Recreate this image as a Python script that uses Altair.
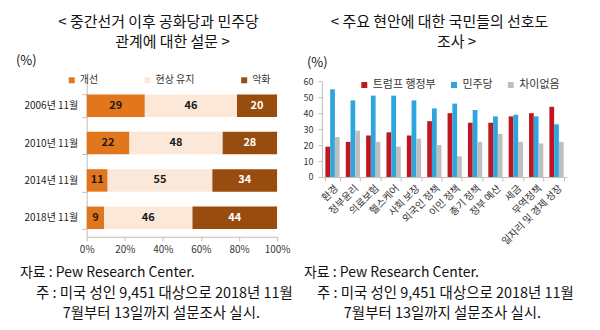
import altair as alt
import pandas as pd

FONT = "Noto Sans CJK KR"

# ---------------- data ----------------
years = ["2006년 11월", "2010년 11월", "2014년 11월", "2018년 11월"]
rel_cats = ["개선", "현상 유지", "악화"]
improve = [29, 22, 11, 9]
status_quo = [46, 48, 55, 46]
worse = [20, 28, 34, 44]
rel_colors = ["#E2761C", "#FCE8D9", "#984D0E"]

issues = ["환경", "정부윤리", "의료보험", "헬스케어", "사회 보장", "외국인 정책",
          "이민 정책", "총기 정책", "정부 예산", "세금", "무역정책", "일자리 및 경제 성장"]
series = ["트럼프 행정부", "민주당", "차이없음"]
trump = [19, 22, 26, 28, 26, 35, 40, 34, 34, 38, 40, 44]
dem = [55, 48, 51, 51, 48, 43, 46, 42, 38, 39, 38, 33]
nodiff = [25, 29, 22, 19, 24, 20, 13, 22, 27, 22, 21, 22]
series_colors = ["#C0161F", "#2EA6DD", "#BFBFBF"]

left_title = ["< 중간선거 이후 공화당과 민주당", "관계에 대한 설문 >"]
right_title = ["< 주요 현안에 대한 국민들의 선호도", "조사 >"]
source = "자료 : Pew Research Center."
note1 = "주 : 미국 성인 9,451 대상으로 2018년 11월"
note2 = "7월부터 13일까지 설문조사 실시."
unit = "(%)"

left_x_ticks = [0, 0.2, 0.4, 0.6, 0.8, 1.0]
right_y_ticks = [0, 10, 20, 30, 40, 50, 60]

# ---------------- tables ----------------
rows = []
for i, y in enumerate(years):
    for j, (c, vals) in enumerate(zip(rel_cats, [improve, status_quo, worse])):
        rows.append({"year": y, "cat": c, "value": vals[i], "order": j})
df_left = pd.DataFrame(rows)

rows = []
for i, iss in enumerate(issues):
    for s, vals in zip(series, [trump, dem, nodiff]):
        rows.append({"issue": iss, "series": s, "value": vals[i]})
df_right = pd.DataFrame(rows)

W1, H1 = 191, 156
W2, H2 = 246, 96
GRID = "#BFBFBF"


def txt(s, x, y, size, align="left", weight="normal"):
    return alt.Chart(pd.DataFrame({"t": [s]})).mark_text(
        align=align, baseline="middle", fontSize=size, font=FONT,
        color="#111111", fontWeight=weight
    ).encode(x=alt.value(x), y=alt.value(y), text="t:N")


def corner(x, y):
    return alt.Chart(pd.DataFrame({"a": [0]})).mark_rect(color="white").encode(
        x=alt.value(x), x2=alt.value(x + 1), y=alt.value(y), y2=alt.value(y + 1)
    )


# ---------------- left panel ----------------
lbase = alt.Chart(df_left).transform_stack(
    stack="value", groupby=["year"], as_=["v0", "v1"], offset="normalize",
    sort=[alt.SortField("order", order="ascending")]
).transform_calculate(mid="(datum.v0 + datum.v1) / 2")

xscale = alt.Scale(domain=[0, 1], nice=False)
yscale = alt.Scale(domain=years, paddingInner=0.4, paddingOuter=0.28, align=0.63)
xaxis = alt.Axis(values=left_x_ticks, format=".0%", title=None, labelFontSize=10,
                 labelColor="#333333", domainColor=GRID, tickColor=GRID, tickSize=4,
                 labelPadding=4, grid=False, labelOverlap=False, labelFlush=False)
yaxis = alt.Axis(title=None, labelFontSize=10, labelColor="#222222", domainColor=GRID,
                 tickColor=GRID, tickSize=5, tickBand="extent", labelPadding=4)

lbars = lbase.mark_bar().encode(
    x=alt.X("v0:Q", scale=xscale, axis=xaxis),
    x2="v1:Q",
    y=alt.Y("year:N", scale=yscale, sort=years, axis=yaxis),
    color=alt.Color("cat:N", sort=rel_cats,
                    scale=alt.Scale(domain=rel_cats, range=rel_colors),
                    legend=alt.Legend(orient="none", legendX=-20, legendY=-6,
                                      direction="horizontal", columns=3, title=None,
                                      symbolType="square", symbolSize=36,
                                      symbolStrokeWidth=0, labelFontSize=10,
                                      labelColor="#333333", columnPadding=44,
                                      labelOffset=3, padding=0)),
)
ltext = lbase.mark_text(fontSize=11, fontWeight="bold", font=FONT).encode(
    x=alt.X("mid:Q", scale=xscale, axis=xaxis),
    y=alt.Y("year:N", scale=yscale, sort=years, axis=yaxis),
    text="value:Q",
    color=alt.condition(alt.datum.cat == "악화", alt.value("#FFFFFF"),
                        alt.value("#1A1A1A")),
)

left = alt.layer(
    lbars, ltext,
    txt(left_title[0], 72, -59, 15, "center"),
    txt(left_title[1], 86, -39, 15, "center"),
    txt(unit, -71, -20, 13),
    txt(source, -67, 192, 14),
    txt(note1, -51, 213, 14.5),
    txt(note2, -24, 234, 14.5),
    corner(-86, -80),
).resolve_scale(color="independent").properties(width=W1, height=H1)

# ---------------- right panel ----------------
rbars = alt.Chart(df_right).mark_bar().encode(
    x=alt.X("issue:N", sort=issues,
            scale=alt.Scale(paddingInner=0.3, paddingOuter=0.17),
            axis=alt.Axis(title=None, labelAngle=315, labelFontSize=10,
                          labelColor="#333333", domainColor=GRID, tickColor=GRID,
                          tickSize=4, tickBand="extent", labelPadding=2)),
    xOffset=alt.XOffset("series:N", sort=series),
    y=alt.Y("value:Q", scale=alt.Scale(domain=[0, 60], nice=False),
            axis=alt.Axis(title=None, values=right_y_ticks, labelFontSize=9,
                          labelColor="#333333", domainColor=GRID, tickColor=GRID,
                          tickSize=4, labelPadding=5, grid=False)),
    color=alt.Color("series:N", sort=series,
                    scale=alt.Scale(domain=series, range=series_colors),
                    legend=alt.Legend(orient="none", legendX=37, legendY=-2,
                                      direction="horizontal", columns=3, title=None,
                                      symbolType="square", symbolSize=36,
                                      symbolStrokeWidth=0, labelFontSize=11,
                                      labelColor="#333333", columnPadding=12,
                                      labelOffset=3, padding=0)),
)

right = alt.layer(
    rbars,
    txt(right_title[0], 118, -59, 15, "center"),
    txt(right_title[1], 135, -39, 15, "center"),
    txt(unit, -15, -18, 13),
    txt(source, -18, 192, 14),
    txt(note1, -5, 213, 14.5),
    txt(note2, 22, 234, 14.5),
    corner(277, 249),
).resolve_scale(color="independent").properties(width=W2, height=H2)

chart = alt.hconcat(left, right, spacing=45, bounds="flush").resolve_scale(
    color="independent").resolve_legend(color="independent").properties(
    padding=0, background="white"
).configure_view(stroke="transparent").configure_axis(
    labelFont=FONT, labelOverlap=False).configure_legend(labelFont=FONT)

chart.save("out.html", embed_options={"renderer": "svg", "actions": False})
